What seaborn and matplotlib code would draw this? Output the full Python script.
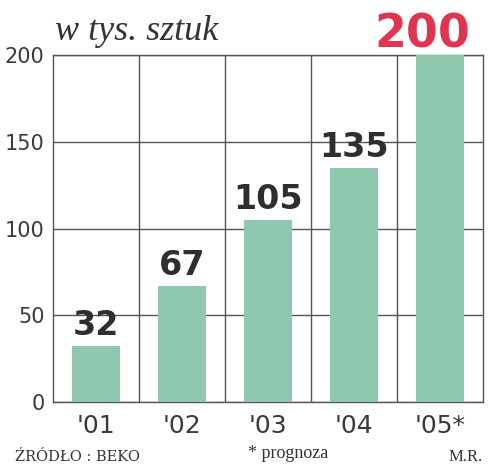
import matplotlib
matplotlib.use('Agg')
import matplotlib.pyplot as plt
import seaborn as sns
import pandas as pd

# data
years = ["'01", "'02", "'03", "'04", "'05*"]
values = [32, 67, 105, 135, 200]
y_ticks = [0, 50, 100, 150, 200]

df = pd.DataFrame({'rok': years, 'sztuki': values})

sns.set_style('white')
plt.rcParams['font.family'] = ['DejaVu Sans']

fig = plt.figure(figsize=(5, 4.65), dpi=100)
ax = fig.add_axes([0.106, 0.1355, 0.86, 0.746])

sns.barplot(data=df, x='rok', y='sztuki', color='#8dc8af', saturation=1,
            width=0.56, linewidth=0, ax=ax, zorder=3)

ax.set_xlim(-0.5, len(years) - 0.5)
ax.set_ylim(0, 200)
ax.set_yticks(y_ticks)
ax.set_xticks([i + 0.5 for i in range(len(years) - 1)], minor=True)
ax.grid(axis='y', which='major', color='#555555', lw=1, zorder=0)
ax.grid(axis='x', which='minor', color='#555555', lw=1, zorder=0)
ax.grid(axis='x', which='major', visible=False)
for s in ax.spines.values():
    s.set_color('#555555')
    s.set_linewidth(1)
ax.tick_params(axis='both', which='both', length=0)
ax.tick_params(axis='y', labelsize=15, labelcolor='#3a3a3a', pad=6)
ax.tick_params(axis='x', labelsize=18, labelcolor='#3a3a3a', pad=9)
ax.set_xlabel('')
ax.set_ylabel('')

# value labels
for i, v in enumerate(values[:-1]):
    ax.text(i, v + 6.5, str(v), ha='center', va='baseline', fontsize=24,
            fontweight='bold', color='#2e2e2e', zorder=5)
ax.text(len(values) - 1 - 0.21, values[-1] + 4.6, str(values[-1]), ha='center',
        va='baseline', fontsize=33, fontweight='bold', color='#e03550',
        clip_on=False, zorder=5)

fig.text(0.11, 1 - 40 / 465, 'w tys. sztuk', family='Liberation Serif', style='italic',
         fontsize=26, color='#333333', va='baseline', ha='left')
fig.text(0.03, 4 / 465, 'ŹRÓDŁO : BEKO', family='DejaVu Serif', fontsize=10.5,
         color='#333333', ha='left', va='baseline')
fig.text(0.576, 7 / 465, '* prognoza', family='Liberation Serif', fontsize=13,
         color='#333333', ha='center', va='baseline')
fig.text(0.965, 4 / 465, 'M.R.', family='Liberation Serif', fontsize=12,
         color='#333333', ha='right', va='baseline')

fig.savefig('out.png', dpi=100, facecolor='w')
